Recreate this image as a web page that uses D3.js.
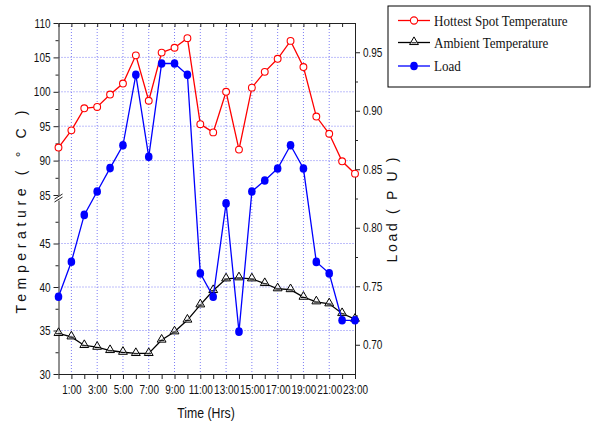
<!DOCTYPE html>
<html><head><meta charset="utf-8">
<script src="https://cdn.jsdelivr.net/npm/d3@7"></script>
<style>
body{margin:0;background:#fff;}
svg{display:block;}
.tick text{font-family:"Liberation Sans",Arial,sans-serif;font-size:12.5px;fill:#111;}
</style></head>
<body><svg id="c" width="597" height="426"></svg>
<script>
const hours = d3.range(0, 24);
const hottest = [91.9,94.4,97.6,97.8,99.6,101.2,105.3,98.7,105.7,106.4,107.8,95.3,94.1,100.0,91.6,100.6,102.9,104.8,107.4,103.6,96.4,93.9,89.9,88.1];
const ambient = [34.66,34.27,33.28,33.08,32.7,32.5,32.36,32.36,33.9,34.85,36.2,37.95,39.6,40.94,41.06,40.94,40.4,39.8,39.7,38.83,38.3,38.07,36.95,36.3];
const load = [0.741,0.771,0.811,0.831,0.851,0.8705,0.9307,0.8606,0.9404,0.9404,0.9307,0.761,0.741,0.8208,0.7112,0.831,0.8404,0.8506,0.8705,0.8506,0.7708,0.761,0.7209,0.7209];
const upperTicks = [85,90,95,100,105,110];
const lowerTicks = [30,35,40,45];
const loadTicks = [0.70,0.75,0.80,0.85,0.90,0.95];
const seriesNames = ["Hottest Spot Temperature","Ambient Temperature","Load"];

const svg = d3.select("#c");
const L = 58.5, R = 355, T = 23, B = 374;
const x = d3.scaleLinear().domain([0,23]).range([L,R]);
const yU = d3.scaleLinear().domain([85,110]).range([195,T]);
const yL = d3.scaleLinear().domain([30,50]).range([B,200]);
const yR = d3.scaleLinear().domain([0.675,0.975]).range([B,T]);

const gridC = "#7d7df5";
const grid = svg.append("g").attr("stroke", gridC).attr("stroke-width", 1).attr("stroke-dasharray", "1,2");
[90,95,100,105].forEach(v => grid.append("line").attr("x1",L).attr("x2",R).attr("y1",yU(v)).attr("y2",yU(v)));
[35,40,45].forEach(v => grid.append("line").attr("x1",L).attr("x2",R).attr("y1",yL(v)).attr("y2",yL(v)));
d3.range(1,23,2).forEach(h => grid.append("line").attr("x1",x(h)).attr("x2",x(h)).attr("y1",T).attr("y2",B));

const axC = "#222";
const SX = 0.8;
function style(g){ g.selectAll("path,line").attr("stroke", axC); }
function narrow(g){ g.selectAll(".tick text").each(function(){
  const t = d3.select(this); const xx = +t.attr("x")||0;
  t.attr("x", xx/SX).attr("transform",`scale(${SX},1)`);
});}
// bottom
svg.append("g").attr("transform",`translate(0,${B})`)
  .call(d3.axisBottom(x).tickValues(hours).tickSize(5).tickSizeOuter(0).tickFormat(d => d%2===1 ? d+":00" : ""))
  .call(style).call(g=>g.selectAll(".tick text").attr("dy","0.95em")).call(narrow);
// top
svg.append("g").attr("transform",`translate(0,${T})`)
  .call(d3.axisTop(x).tickValues(hours).tickSize(-4).tickSizeOuter(0).tickFormat(""))
  .call(style);
// left upper
svg.append("g").attr("transform",`translate(${L},0)`)
  .call(d3.axisLeft(yU).tickValues(upperTicks).tickSize(5).tickSizeOuter(0))
  .call(style).call(narrow);
svg.append("g").attr("transform",`translate(${L},0)`)
  .call(d3.axisLeft(yU).tickValues([87.5,92.5,97.5,102.5,107.5]).tickSize(3).tickSizeOuter(0).tickFormat(""))
  .call(style).call(g=>g.select(".domain").remove());
// left lower
svg.append("g").attr("transform",`translate(${L},0)`)
  .call(d3.axisLeft(yL).tickValues(lowerTicks).tickSize(5).tickSizeOuter(0))
  .call(style).call(narrow);
svg.append("g").attr("transform",`translate(${L},0)`)
  .call(d3.axisLeft(yL).tickValues([32.5,37.5,42.5,47.5]).tickSize(3).tickSizeOuter(0).tickFormat(""))
  .call(style).call(g=>g.select(".domain").remove());
// right
svg.append("g").attr("transform",`translate(${R},0)`)
  .call(d3.axisRight(yR).tickValues(loadTicks).tickSize(5).tickSizeOuter(0).tickFormat(d3.format(".2f")))
  .call(style).call(narrow);
svg.append("g").attr("transform",`translate(${R},0)`)
  .call(d3.axisRight(yR).tickValues([0.725,0.775,0.825,0.875,0.925]).tickSize(3).tickSizeOuter(0).tickFormat(""))
  .call(style).call(g=>g.select(".domain").remove());

// axis break
const bg = svg.append("g");
bg.append("rect").attr("x",L-1.5).attr("y",196).attr("width",3).attr("height",3.5).attr("fill","#fff");
bg.append("line").attr("x1",L-4).attr("y1",199).attr("x2",L+4).attr("y2",194).attr("stroke",axC);
bg.append("line").attr("x1",L-4).attr("y1",202).attr("x2",L+4).attr("y2",197).attr("stroke",axC);

// series
const lineU = d3.line().x((d,i)=>x(hours[i])).y(d=>yU(d));
const lineL = d3.line().x((d,i)=>x(hours[i])).y(d=>yL(d));
const lineR = d3.line().x((d,i)=>x(hours[i])).y(d=>yR(d));

svg.append("path").datum(hottest).attr("d",lineU).attr("fill","none").attr("stroke","#ff0000").attr("stroke-width",1.3);
svg.append("g").selectAll("circle").data(hottest).join("circle")
  .attr("cx",(d,i)=>x(hours[i])).attr("cy",d=>yU(d)).attr("r",3.4)
  .attr("fill","#fff").attr("stroke","#ff0000").attr("stroke-width",1.1);

const tri = d3.symbol().type(d3.symbolTriangle).size(34);
svg.append("path").datum(ambient).attr("d",lineL).attr("fill","none").attr("stroke","#000").attr("stroke-width",1.3);
svg.append("g").selectAll("path").data(ambient).join("path")
  .attr("d",tri).attr("transform",(d,i)=>`translate(${x(hours[i])},${yL(d)-0.5})`)
  .attr("fill","#fff").attr("fill-opacity",0.6).attr("stroke","#000").attr("stroke-width",1);
svg.append("g").selectAll("line").data(ambient).join("line")
  .attr("x1",(d,i)=>x(hours[i])-2.5).attr("x2",(d,i)=>x(hours[i])+2.5)
  .attr("y1",d=>yL(d)+0.3).attr("y2",d=>yL(d)+0.3).attr("stroke","#000").attr("stroke-width",1);

svg.append("path").datum(load).attr("d",lineR).attr("fill","none").attr("stroke","#0000ff").attr("stroke-width",1.3);
svg.append("g").selectAll("ellipse").data(load).join("ellipse")
  .attr("cx",(d,i)=>x(hours[i])).attr("cy",d=>yR(d)).attr("rx",3.8).attr("ry",4.3)
  .attr("fill","#0000ff");

// axis titles
const sans = "'Liberation Sans',Arial,sans-serif";
svg.append("text").attr("transform","translate(26,212) rotate(-90)").attr("text-anchor","middle")
  .attr("font-family",sans).attr("font-size",14).attr("fill","#111")
  .attr("textLength",203).attr("lengthAdjust","spacing").text("Temperature ( ° C )");
svg.append("text").attr("transform","translate(397,210) rotate(-90)").attr("text-anchor","middle")
  .attr("font-family",sans).attr("font-size",14).attr("fill","#111")
  .attr("textLength",105).attr("lengthAdjust","spacing").text("Load ( P U )");
svg.append("text").attr("transform","translate(206,418) scale(0.82,1)").attr("text-anchor","middle")
  .attr("font-family",sans).attr("font-size",15).attr("fill","#111")
  .text("Time (Hrs)");

// legend
const lg = svg.append("g");
lg.append("rect").attr("x",388).attr("y",6).attr("width",202).attr("height",81).attr("fill","#fff").attr("stroke","#000").attr("stroke-width",1);
const cols = ["#ff0000","#000","#0000ff"];
const rowsY = [20.5,42.5,66];
seriesNames.forEach((n,i)=>{
  const y0 = rowsY[i];
  lg.append("line").attr("x1",398).attr("x2",430).attr("y1",y0).attr("y2",y0).attr("stroke",cols[i]).attr("stroke-width",1.3);
  if(i===0) lg.append("circle").attr("cx",414).attr("cy",y0).attr("r",3.6).attr("fill","#fff").attr("stroke",cols[0]).attr("stroke-width",1.1);
  if(i===1){ lg.append("path").attr("d",tri).attr("transform",`translate(414,${y0-0.5})`).attr("fill","#fff").attr("stroke","#000");
             lg.append("line").attr("x1",411.5).attr("x2",416.5).attr("y1",y0+0.3).attr("y2",y0+0.3).attr("stroke","#000"); }
  if(i===2) lg.append("ellipse").attr("cx",414).attr("cy",y0).attr("rx",3.8).attr("ry",4.3).attr("fill",cols[2]);
  lg.append("text").attr("transform",`translate(434,${y0+5}) scale(0.9,1)`).attr("font-family","'Liberation Serif','Times New Roman',serif")
    .attr("font-size",14.5).attr("fill","#111").text(n);
});
</script></body></html>
